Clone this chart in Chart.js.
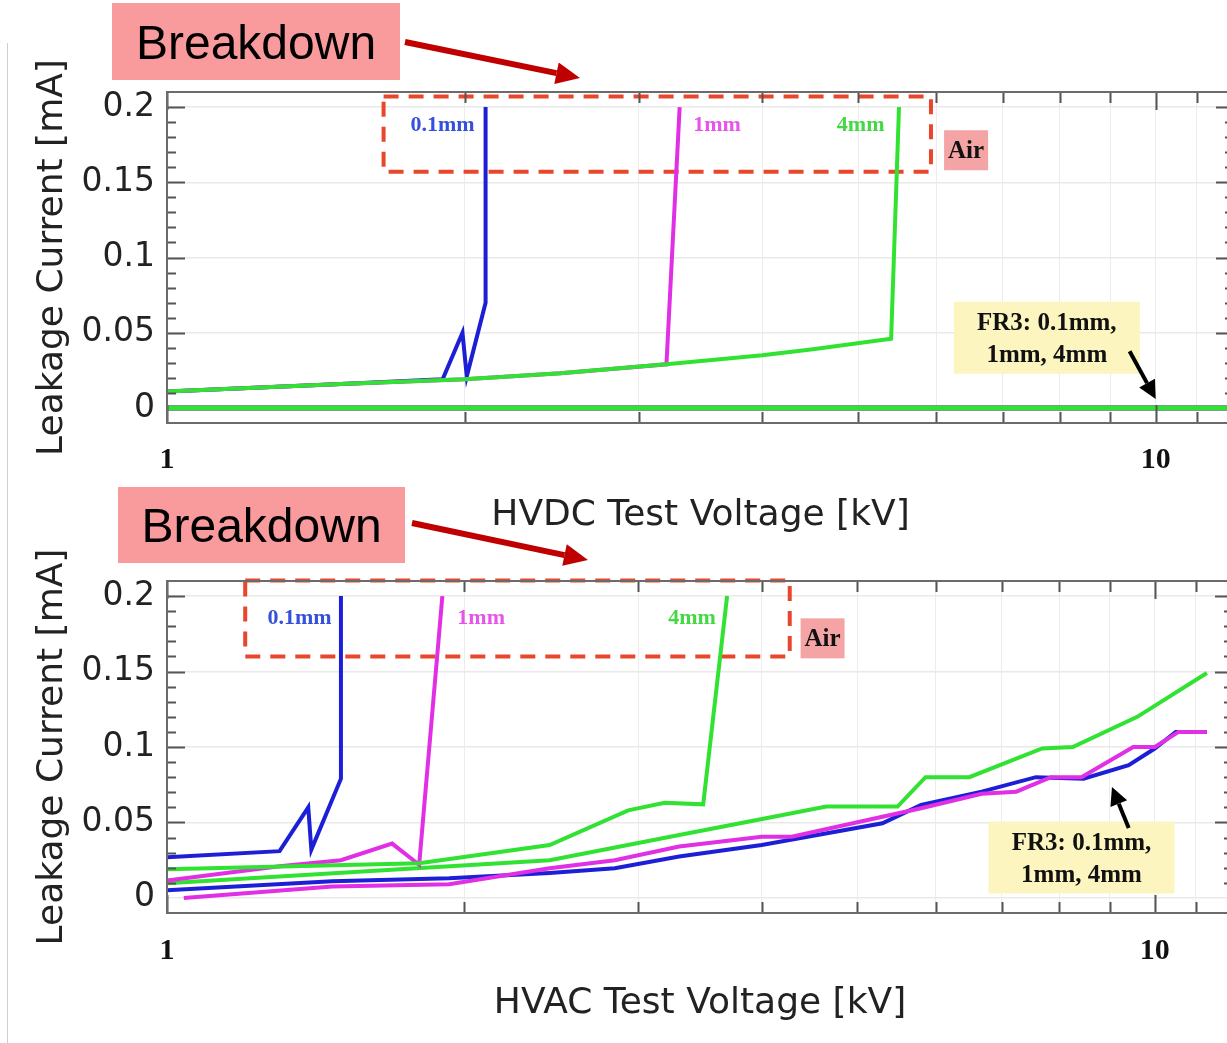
<!DOCTYPE html>
<html>
<head>
<meta charset="utf-8">
<title>Leakage current vs test voltage</title>
<script src="https://cdn.jsdelivr.net/npm/chart.js@4.4.1/dist/chart.umd.min.js"></script>
<style>
  html, body { margin: 0; padding: 0; background: #fff; overflow: hidden; width: 1227px; height: 1043px; }
  .edge { position: absolute; left: 7px; top: 43px; width: 1px; height: 1000px; background: #cfcfcf; }
  #dc { position: absolute; left: 0; top: 0; }
  #ac { position: absolute; left: 0; top: 470px; }
</style>
</head>
<body>
<div class="edge"></div>
<canvas id="dc" width="1253" height="540"></canvas>
<canvas id="ac" width="1253" height="573"></canvas>
<script>
// axis ticks
const voltTicks = [1, 2, 3, 4, 5, 6, 7, 8, 9, 10, 11, 12];
const voltLabels = { 1: '1', 10: '10' };
const currentTicks = [0, 0.05, 0.1, 0.15, 0.2];

// HVDC, air gaps
const dcAir01V = [1, 1.5, 1.9, 1.99, 2.01, 2.1, 2.1];
const dcAir01I = [0.011, 0.016, 0.019, 0.05, 0.021, 0.07, 0.2];
const dcAir1V = [1, 1.5, 2, 2.5, 3.2, 3.3];
const dcAir1I = [0.011, 0.016, 0.019, 0.023, 0.029, 0.2];
const dcAir4V = [1, 1.5, 2, 2.5, 3.2, 4, 4.5, 5.4, 5.5];
const dcAir4I = [0.011, 0.016, 0.019, 0.023, 0.029, 0.035, 0.039, 0.046, 0.2];
// HVDC, FR3 oil (all three gaps stay at zero)
const dcOilV = [1, 12];
const dcOil01I = [0, 0];
const dcOil1I = [0, 0];
const dcOil4I = [0, 0];

// HVAC, air gaps
const acAir01V = [1, 1.3, 1.39, 1.4, 1.5, 1.5];
const acAir01I = [0.027, 0.031, 0.06, 0.032, 0.079, 0.2];
const acAir1V = [1, 1.3, 1.5, 1.69, 1.8, 1.9];
const acAir1I = [0.0115, 0.021, 0.025, 0.036, 0.022, 0.2];
const acAir4V = [1, 1.8, 2.44, 2.93, 3.19, 3.49, 3.69];
const acAir4I = [0.019, 0.023, 0.035, 0.058, 0.063, 0.062, 0.2];
// HVAC, FR3 oil
const acOil01V = [1, 1.47, 1.93, 2.44, 2.84, 3.3, 4.0, 5.3, 5.8, 6.68, 7.58, 8.47, 9.41, 10.0, 10.5, 11.29];
const acOil01I = [0.005, 0.011, 0.013, 0.0165, 0.0197, 0.0274, 0.035, 0.0495, 0.0616, 0.0704, 0.08, 0.079, 0.088, 0.099, 0.11, 0.11];
const acOil1V = [1.04, 1.47, 1.93, 2.44, 2.84, 3.3, 4.0, 4.29, 5.3, 5.8, 6.68, 7.24, 7.85, 8.43, 9.51, 10.0, 10.57, 11.29];
const acOil1I = [0, 0.0075, 0.009, 0.0197, 0.025, 0.034, 0.0406, 0.0406, 0.0538, 0.0594, 0.069, 0.0704, 0.08, 0.08, 0.1, 0.1, 0.11, 0.11];
const acOil4V = [1, 2.44, 3.3, 4.04, 4.65, 5.49, 5.86, 6.49, 7.69, 8.26, 9.6, 11.29];
const acOil4I = [0.0097, 0.025, 0.0417, 0.0528, 0.0605, 0.0605, 0.08, 0.08, 0.099, 0.1, 0.12, 0.149];

const BLUE = '#1d1fd6';
const MAGENTA = '#e02fe4';
const GREEN = '#32e232';

function series(v, i, color, width, order) {
  return {
    data: v.map((x, k) => ({ x, y: i[k] })),
    borderColor: color,
    borderWidth: width,
    showLine: true,
    pointRadius: 0,
    fill: false,
    order,
  };
}

function arrow(ctx, x0, y0, x1, y1, color, width, head, spread) {
  const ang = Math.atan2(y1 - y0, x1 - x0);
  const bx = x1 - head * Math.cos(ang);
  const by = y1 - head * Math.sin(ang);
  ctx.strokeStyle = color;
  ctx.fillStyle = color;
  ctx.lineWidth = width;
  ctx.setLineDash([]);
  ctx.beginPath();
  ctx.moveTo(x0, y0);
  ctx.lineTo(bx, by);
  ctx.stroke();
  ctx.beginPath();
  ctx.moveTo(x1, y1);
  ctx.lineTo(bx + spread * Math.sin(ang), by - spread * Math.cos(ang));
  ctx.lineTo(bx - spread * Math.sin(ang), by + spread * Math.cos(ang));
  ctx.closePath();
  ctx.fill();
}

// dashed "Air" frame goes under the curves
const airFrame = {
  id: 'airFrame',
  beforeDatasetsDraw(chart, args, o) {
    const { ctx, scales: { x, y } } = chart;
    const l = x.getPixelForValue(o.x0), r = x.getPixelForValue(o.x1);
    const t = y.getPixelForValue(o.y1), b = y.getPixelForValue(o.y0);
    ctx.save();
    ctx.strokeStyle = '#e8472b';
    ctx.lineWidth = 4;
    ctx.setLineDash([15, 10]);
    ctx.strokeRect(l, t, r - l, b - t);
    ctx.restore();
  },
};

// plot box with inward ticks on all four sides
const axesBox = {
  id: 'axesBox',
  afterDatasetsDraw(chart) {
    const { ctx, chartArea: a, scales: { x, y } } = chart;
    ctx.save();
    ctx.setLineDash([]);
    ctx.lineWidth = 2;
    ctx.strokeStyle = '#555';
    ctx.beginPath();
    for (let k = 1; k <= 20; k++) {
      const py = Math.round(y.getPixelForValue(k / 100)) + 0.5;
      const len = k % 5 === 0 ? 18 : 9;
      ctx.moveTo(a.left, py); ctx.lineTo(a.left + len, py);
      ctx.moveTo(a.right, py); ctx.lineTo(a.right - len, py);
    }
    voltTicks.forEach(v => {
      const px = Math.round(x.getPixelForValue(v)) + 0.5;
      const len = voltLabels[v] ? 18 : 11;
      ctx.moveTo(px, a.bottom); ctx.lineTo(px, a.bottom - len);
      ctx.moveTo(px, a.top); ctx.lineTo(px, a.top + len);
    });
    ctx.stroke();
    ctx.strokeStyle = '#6b6b6b';
    ctx.strokeRect(a.left, a.top, a.right - a.left, a.bottom - a.top);
    ctx.restore();
  },
};

// text tags and arrows
const callouts = {
  id: 'callouts',
  afterDraw(chart, args, o) {
    const { ctx, scales: { x, y } } = chart;
    ctx.save();
    ctx.textAlign = 'center';
    ctx.textBaseline = 'middle';

    // Breakdown banner
    const [bx, by, bw, bh] = o.banner;
    ctx.fillStyle = '#f99a9c';
    ctx.fillRect(bx, by, bw, bh);
    ctx.fillStyle = '#000';
    ctx.font = '48px "Liberation Sans", Arial, sans-serif';
    ctx.fillText('Breakdown', bx + bw / 2, by + bh / 2 + 4);
    const [a0, a1, a2, a3] = o.bannerArrow;
    arrow(ctx, a0, a1, a2, a3, '#c00000', 6, 24, 11);

    // gap labels
    ctx.font = 'bold 22px "Liberation Serif", "Times New Roman", serif';
    o.gaps.forEach(([txt, v, i, c]) => {
      ctx.fillStyle = c;
      ctx.fillText(txt, x.getPixelForValue(v), y.getPixelForValue(i));
    });

    // Air tag
    const ax = x.getPixelForValue(o.air[0]), ay = y.getPixelForValue(o.air[1]);
    ctx.fillStyle = '#f4a4a4';
    ctx.fillRect(ax - 22, ay - 20, 44, 40);
    ctx.fillStyle = '#111';
    ctx.font = 'bold 25px "Liberation Serif", "Times New Roman", serif';
    ctx.fillText('Air', ax, ay + 1);

    // FR3 tag
    const fx = x.getPixelForValue(o.oil[0]), fy = y.getPixelForValue(o.oil[1]);
    ctx.fillStyle = '#fcf5c0';
    ctx.fillRect(fx - 93, fy - 36, 186, 72);
    ctx.fillStyle = '#111';
    ctx.font = 'bold 25px "Liberation Serif", "Times New Roman", serif';
    ctx.fillText('FR3: 0.1mm,', fx, fy - 14);
    ctx.fillText('1mm, 4mm', fx, fy + 18);
    arrow(ctx,
      x.getPixelForValue(o.oilArrow[0]), y.getPixelForValue(o.oilArrow[1]),
      x.getPixelForValue(o.oilArrow[2]), y.getPixelForValue(o.oilArrow[3]),
      '#000', 4, 18, 9);
    ctx.restore();
  },
};

function makeChart(id, datasets, lay, notes) {
  return new Chart(document.getElementById(id), {
    type: 'scatter',
    data: { datasets },
    options: {
      responsive: false,
      animation: false,
      devicePixelRatio: 1,
      layout: { padding: { top: lay.top, right: 3, bottom: 0, left: 0 } },
      elements: { line: { tension: 0 } },
      plugins: {
        legend: { display: false },
        tooltip: { enabled: false },
        airFrame: notes.frame,
        callouts: notes,
      },
      scales: {
        x: {
          type: 'logarithmic',
          min: 1,
          max: 12,
          afterBuildTicks: s => { s.ticks = voltTicks.map(value => ({ value })); },
          afterFit: s => { s.height = lay.xHeight; },
          ticks: {
            autoSkip: false,
            maxRotation: 0,
            padding: lay.tickPad,
            color: '#111',
            font: { family: '"Liberation Serif", "Times New Roman", serif', size: 30, weight: 'bold' },
            callback: v => voltLabels[v] || '',
          },
          grid: {
            drawTicks: false,
            lineWidth: 1,
            color: c => (c.tick && c.tick.value === 1 ? 'rgba(0,0,0,0)' : '#ececec'),
          },
          border: { display: false },
          title: {
            display: true,
            text: lay.xTitle,
            color: '#222',
            font: { family: '"DejaVu Sans", sans-serif', size: 36 },
            padding: { top: 0, bottom: lay.titlePad },
          },
        },
        y: {
          min: -0.01,
          max: 0.21,
          afterBuildTicks: s => { s.ticks = currentTicks.map(value => ({ value })); },
          afterFit: s => { s.width = 167; },
          ticks: {
            padding: 12,
            color: '#222',
            font: { family: '"DejaVu Sans", sans-serif', size: 33 },
            callback: v => String(v),
          },
          grid: { drawTicks: false, lineWidth: 1.5, color: '#e9e9e9' },
          border: { display: false },
          title: {
            display: true,
            text: 'Leakage Current [mA]',
            color: '#222',
            font: { family: '"DejaVu Sans", sans-serif', size: 36 },
            padding: { top: 31, bottom: 0 },
          },
        },
      },
    },
    plugins: [airFrame, axesBox, callouts],
  });
}

makeChart('dc', [
  series(dcOilV, dcOil01I, BLUE, 5, 5),
  series(dcOilV, dcOil1I, MAGENTA, 5, 4),
  series(dcOilV, dcOil4I, GREEN, 5, 3),
  series(dcAir01V, dcAir01I, BLUE, 4, 2),
  series(dcAir1V, dcAir1I, MAGENTA, 4, 1),
  series(dcAir4V, dcAir4I, GREEN, 4, 0),
], { top: 92, xHeight: 117, tickPad: 19, titlePad: 3, xTitle: 'HVDC Test Voltage [kV]' }, {
  banner: [112, 3, 288, 77],
  bannerArrow: [405, 42, 580, 78],
  frame: { x0: 1.656, x1: 5.925, y0: 0.157, y1: 0.207 },
  gaps: [['0.1mm', 1.9, 0.188, '#3550dc'], ['1mm', 3.6, 0.188, '#e655ea'], ['4mm', 5.03, 0.188, '#45d845']],
  air: [6.43, 0.1713],
  oil: [7.76, 0.0467],
  oilArrow: [9.41, 0.0377, 10, 0.006],
});

makeChart('ac', [
  series(acOil01V, acOil01I, BLUE, 4, 5),
  series(acOil1V, acOil1I, MAGENTA, 4, 4),
  series(acOil4V, acOil4I, GREEN, 4, 3),
  series(acAir01V, acAir01I, BLUE, 4, 2),
  series(acAir1V, acAir1I, MAGENTA, 4, 1),
  series(acAir4V, acAir4I, GREEN, 4, 0),
], { top: 111, xHeight: 130, tickPad: 20, titlePad: 18, xTitle: 'HVAC Test Voltage [kV]' }, {
  banner: [118, 17, 287, 76],
  bannerArrow: [412, 53, 588, 90],
  frame: { x0: 1.2, x1: 4.27, y0: 0.16, y1: 0.2104 },
  gaps: [['0.1mm', 1.362, 0.185, '#3550dc'], ['1mm', 2.08, 0.185, '#e655ea'], ['4mm', 3.4, 0.185, '#45d845']],
  air: [4.61, 0.172],
  oil: [8.43, 0.0268],
  oilArrow: [9.41, 0.0464, 9.05, 0.0735],
});
</script>
</body>
</html>
